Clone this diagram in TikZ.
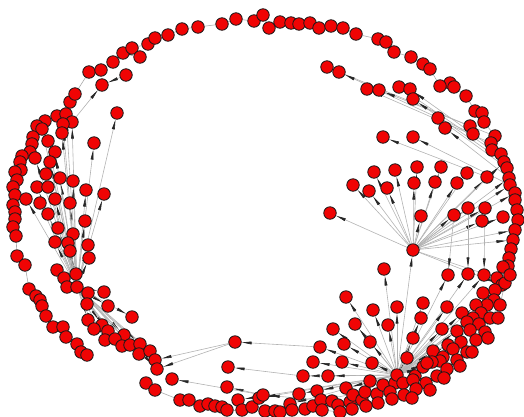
\documentclass[tikz,border=0pt]{standalone}
\usetikzlibrary{arrows.meta}
\pgfdeclarelayer{bg}
\pgfsetlayers{bg,main}
\definecolor{nred}{RGB}{240,4,4}
\tikzset{
  v/.style={circle, draw=black!90, fill=nred, line width=0.8pt, minimum size=12.5pt, inner sep=0pt},
  e/.style={draw=black!30, line width=0.6pt, -{Stealth[length=10pt,width=2.8pt,inset=0pt,black!85]}},
  e0/.style={draw=black!33, line width=0.6pt}
}
\begin{document}
\begin{tikzpicture}[x=1pt,y=-1pt]
\useasboundingbox (0,0) rectangle (524,416);
% ---------- nodes ----------
\foreach \x/\y in {
 70/102,75/94,89/72,101/70,113/62,123/53,132/48,148/44,155/38,168/35,182/29,198/27,222/24,236/19,254/21,263/15,
 269/28,280/22,291/23,299/24,310/23,319/28,331/26,343/28,356/34,378/39,386/42,394/52,411/57,423/64,430/69,
 450/83,454/87,466/96,475/111,482/113,484/122,495/136,491/143,492/150,501/154,504/162,507/168,509/178,510/185,
 515/193,515/200,517/210,518/220,515/230,513/240,511/249,509/258,508/266,
 140/57,126/75,102/85,117/113,94/143,440/86,
 327/67,339/72,367/89,379/90,399/87,410/89,413/99,438/118,445/128,470/126,473/134,383/137,413/137,
 374/172,395/170,417/167,441/167,467/173,353/185,369/191,387/188,414/183,435/182,457/183,487/177,
 330/213,421/216,454/215,468/208,485/208,482/221,503/217,413/250,
 57/116,66/114,72/122,63/124,45/121,37/126,42/129,62/133,33/137,48/141,32/144,55/152,30/152,22/156,35/158,
 50/162,20/162,21/170,15/172,46/174,60/178,73/181,17/180,13/187,37/187,48/187,86/190,104/194,15/195,26/199,
 55/199,70/203,40/203,13/205,48/214,15/212,85/221,15/219,58/228,13/227,16/236,73/234,55/242,68/243,70/251,
 88/245,89/258,17/256,25/265,57/270,64/278,76/274,67/287,77/287,29/289,36/296,40/300,42/306,88/293,104/292,
 87/304,108/306,46/316,132/317,88/320,102/325,94/329,108/331,53/327,63/327,66/337,124/335,105/340,115/339,
 122/346,130/345,140/344,77/344,81/352,87/355,139/354,150/351,155/360,157/369,
 172/379,146/383,155/390,180/400,189/400,200/406,208/404,215/406,222/407,227/410,238/400,242/410,252/407,
 259/398,263/395,265/411,275/411,280/412,290/404,292/410,299/394,305/409,313/406,317/391,321/400,332/401,
 338/405,322/410,346/388,350/402,353/395,362/400,365/392,377/394,383/385,395/383,370/381,303/376,328/376,
 313/362,342/362,372/363,320/347,344/344,370/342,235/342,228/367,227/387,346/297,373/310,397/307,355/324,
 388/325,333/329,384/269,423/303,421/318,397/375,415/376,407/358,413/338,423/367,
 448/275,468/274,484/275,497/278,503/267,502/285,495/290,483/293,494/300,487/305,476/305,462/313,481/313,
 473/318,467/322,479/324,470/330,457/331,442/329,447/307,461/342,448/345,453/349,433/351,443/357,440/361,
 432/362,403/383,413/380,427/363,390/392,
 505/283,500/305,490/318,485/332,476/340,467/352,457/360,447/369,437/376,426/383,416/389,404/395,392/399,
 378/403,366/406,352/409,340/412,510/275,498/318,488/338,472/352,460/366,444/378,430/390,412/398}
 \node[v] (p\x-\y) at (\x,\y) {};
% ---------- edges ----------
\begin{pgfonlayer}{bg}
% top arc chain
\foreach \p [remember=\p as \q (initially 70-102)] in {75-94,89-72,101-70,113-62,123-53,132-48,148-44,155-38,
 168-35,182-29,198-27,222-24,236-19,254-21,263-15,269-28,280-22,291-23,299-24,310-23,319-28,331-26,343-28,
 356-34,378-39,386-42,394-52,411-57,423-64,430-69,440-86,450-83,454-87,466-96,475-111,482-113,484-122,495-136,
 491-143,492-150,501-154,504-162,507-168,509-178,510-185,515-193,515-200,517-210,518-220,515-230,513-240,
 511-249,509-258,508-266}
 \draw[e0] (p\q) -- (p\p);
% outer left chain
\foreach \p [remember=\p as \q (initially 70-102)] in {57-116,45-121,37-126,33-137,32-144,30-152,22-156,20-162,
 21-170,15-172,17-180,13-187,15-195,13-205,15-212,15-219,13-227,16-236,17-256,25-265,29-289,36-296,40-300,
 42-306,46-316,53-327,63-327,66-337,77-344,81-352,87-355}
 \draw[e0] (p\q) -- (p\p);
% bottom chain
\foreach \p [remember=\p as \q (initially 146-383)] in {155-390,180-400,189-400,200-406,208-404,215-406,222-407,
 227-410,242-410,252-407,265-411,275-411,280-412,292-410,305-409,322-410,340-412,352-409,366-406,378-403,
 392-399,404-395,416-389,426-383,437-376,447-369,457-360,467-352,476-340,485-332,490-318,500-305,505-283,
 510-275,508-266}
 \draw[e0] (p\q) -- (p\p);
% top-right hub
\foreach \b in {374-172,395-170,417-167,441-167,467-173,353-185,369-191,387-188,414-183,435-182,457-183,
 330-213,421-216,454-215,468-208,485-208,482-221,503-217,487-177,509-178,510-185,515-193,504-162,
 497-278,502-285,515-230,513-240}
 \draw[e] (p413-250) -- (p\b);
% long lines from the right arc
\foreach \a/\b in {470-126/327-67,473-134/339-72,491-143/367-89,495-136/379-90,492-150/399-87,501-154/410-89,
 504-162/413-99,507-168/438-118,509-178/445-128,487-177/383-137,510-185/413-137,126-75/102-85,72-122/102-85,
 123-53/140-57,454-215/448-275,468-208/468-274,485-208/484-275}
 \draw[e] (p\a) -- (p\b);
% bottom-right hub
\foreach \b in {346-297,373-310,397-307,355-324,388-325,333-329,413-338,320-347,344-344,370-342,313-362,
 342-362,372-363,303-376,328-376,384-269,423-303,421-318,407-358,448-275,468-274,484-275,442-329,447-307,
 433-351,413-250,238-400,259-398,290-404,299-394,317-391,346-388,353-395,377-394,462-313,481-313,470-330,
 457-331,461-342,448-345,453-349,443-357,440-361,432-362,427-363,423-367,487-305,476-305,494-300}
 \draw[e] (p397-375) -- (p\b);
\foreach \a/\b in {320-347/235-342,303-376/228-367,263-395/227-387,235-342/157-369,235-342/155-360,
 263-395/172-379,332-401/263-395,365-392/321-400}
 \draw[e] (p\a) -- (p\b);
% left hub
\foreach \b in {117-113,94-143,104-194,86-190,73-181,60-178,55-199,70-203,85-221,58-228,73-234,88-245,89-258,
 76-274,68-243,70-251,48-214,46-174,62-133,72-122,55-152,50-162,48-187,37-187,35-158,48-141,42-129,63-124,
 66-114,55-242,57-270,64-278,67-287,26-199,40-203,
 88-293,104-292,87-304,108-306,88-320,102-325,94-329,108-331,132-317,124-335,105-340,115-339,122-346,
 130-345,140-344,139-354,150-351,155-360,157-369}
 \draw[e] (p77-287) -- (p\b);
\end{pgfonlayer}
\end{tikzpicture}
\end{document}
